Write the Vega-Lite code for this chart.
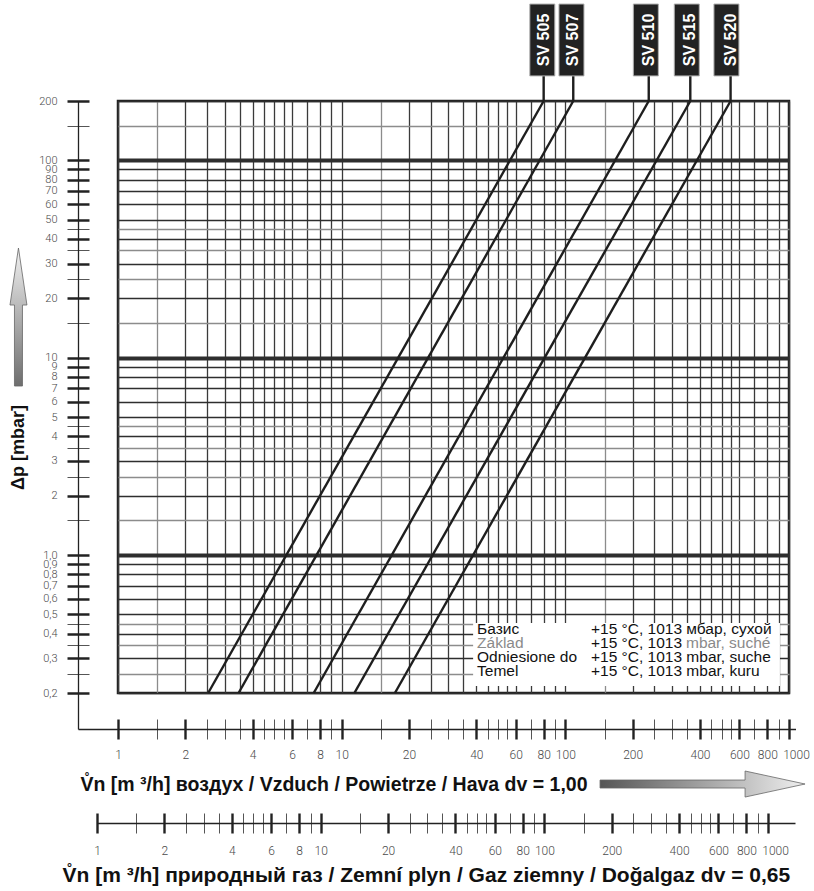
{
  "$schema": "https://vega.github.io/schema/vega-lite/v6.json",
  "width": 671,
  "height": 592,
  "autosize": {"type": "none"},
  "padding": {"left": 118, "top": 101, "right": 25, "bottom": 198},
  "background": "white",
  "config": {
    "view": {"stroke": "#222", "strokeWidth": 2.5},
    "axis": {"labelFont": "Roboto", "titleFont": "Liberation Sans"}
  },
  "datasets": {
    "lines": [
      {"valve": "SV 505", "dp": 0.2, "q": 2.53},
      {"valve": "SV 505", "dp": 200, "q": 80},
      {"valve": "SV 507", "dp": 0.2, "q": 3.46},
      {"valve": "SV 507", "dp": 200, "q": 108.5},
      {"valve": "SV 510", "dp": 0.2, "q": 7.5},
      {"valve": "SV 510", "dp": 200, "q": 236},
      {"valve": "SV 515", "dp": 0.2, "q": 11.4},
      {"valve": "SV 515", "dp": 200, "q": 362},
      {"valve": "SV 520", "dp": 0.2, "q": 17.3},
      {"valve": "SV 520", "dp": 200, "q": 548}
    ],
    "legend": [
      {"term": "Базис", "basis": "+15 °C, 1013 мбар, сухой", "dp": 0.422},
      {"term": "", "basis": "+15 °C, 1013", "dp": 0.3583},
      {"term": "Odniesione do", "basis": "+15 °C, 1013 mbar, suche", "dp": 0.3044},
      {"term": "Temel", "basis": "+15 °C, 1013 mbar, kuru", "dp": 0.2584}
    ],
    "legendcs": [
      {"term": "Základ", "basis": "mbar, suché", "dp": 0.3583}
    ]
  },
  "data": {"name": "lines"},
  "resolve": {
    "scale": {"x": "independent", "y": "independent"},
    "axis": {"x": "independent", "y": "independent"}
  },
  "layer": [
    {
      "mark": {"type": "line", "stroke": "#1e1e1e", "strokeWidth": 2.4},
      "encoding": {
        "x": {
          "field": "q", "type": "quantitative",
          "scale": {"type": "log", "domain": [1, 1000], "nice": false},
          "axis": {
            "orient": "bottom",
            "values": [1,1.5,2,2.5,3,3.5,4,4.5,5,5.5,6,7,8,9,10,15,20,25,30,35,40,45,50,55,60,70,80,90,100,150,200,250,300,350,400,450,500,550,600,700,800,900,1000],
            "grid": true, "domain": false, "ticks": false, "labels": false, "title": null,
            "gridColor": {"condition": {"test": "indexof([1.5,15,150], datum.value) >= 0", "value": "#8c8c8c"}, "value": "#3a3a3a"},
            "gridWidth": 1.3,
            "gridOpacity": 1
          }
        },
        "y": {
          "field": "dp", "type": "quantitative",
          "scale": {"type": "log", "domain": [0.2, 200], "nice": false},
          "axis": {
            "orient": "left", "offset": 29, "tickSize": 22, "domain": false, "grid": true,
            "values": [0.2,0.25,0.3,0.35,0.4,0.45,0.5,0.6,0.7,0.8,0.9,1,1.5,2,2.5,3,3.5,4,4.5,5,6,7,8,9,10,15,20,25,30,35,40,45,50,60,70,80,90,100,150,200],
            "labelExpr": "indexof([0.25,0.35,0.45,1.5,2.5,3.5,4.5,15,25,35,45,150], datum.value) >= 0 ? '' : (datum.value == 1 ? '1,0' : replace('' + datum.value, '.', ','))",
            "labelPadding": 10, "labelFontSize": 11, "labelColor": "#4a4a4a", "labelFontWeight": 300,
            "labelOverlap": false, "labelBound": false, "labelFlush": false,
            "title": "Δp [mbar]", "titleFontSize": 18, "titleFontWeight": "bold", "titleColor": "#111",
            "titleAngle": 270, "titleX": -70.5, "titleY": 346, "titleAlign": "center", "titleBaseline": "middle",
            "gridColor": {"condition": {"test": "indexof([0.25,0.35,0.45,1.5,2.5,3.5,4.5,15,25,35,45,150], datum.value) >= 0", "value": "#8c8c8c"}, "value": "#2e2e2e"},
            "gridWidth": {"condition": {"test": "indexof([1,10,100], datum.value) >= 0", "value": 4}, "value": 1.3},
            "gridOpacity": 1,
            "tickColor": {"condition": {"test": "indexof([0.25,0.35,0.45,1.5,2.5,3.5,4.5,15,25,35,45,150], datum.value) >= 0", "value": "#555"}, "value": "#222"},
            "tickWidth": {"condition": {"test": "indexof([0.25,0.35,0.45,1.5,2.5,3.5,4.5,15,25,35,45,150], datum.value) >= 0", "value": 1}, "value": 2.5}
          }
        },
        "detail": {"field": "valve"}
      }
    },
    {
      "mark": {"type": "point", "opacity": 0},
      "encoding": {
        "x": {
          "field": "q", "type": "quantitative",
          "scale": {"type": "log", "domain": [1, 1000], "nice": false},
          "axis": {
            "orient": "bottom", "offset": 26, "tickSize": 20, "domain": false, "grid": false,
            "values": [1,1.5,2,2.5,3,3.5,4,4.5,5,5.5,6,7,8,9,10,15,20,25,30,35,40,45,50,55,60,70,80,90,100,150,200,250,300,350,400,450,500,550,600,700,800,900,1000],
            "labelExpr": "indexof([1,2,4,6,8,10,20,40,60,80,100,200,400,600,800,1000], datum.value) >= 0 ? '' + datum.value : ''",
            "labelPadding": 10, "labelFontSize": 12, "labelColor": "#4a4a4a", "labelFontWeight": 300,
            "labelOverlap": false, "labelBound": false, "labelFlush": false,
            "labelOffset": {"condition": {"test": "datum.value == 1000", "value": 7}, "value": 0},
            "title": "V̊n [m ³/h] воздух / Vzduch / Powietrze / Hava dv = 1,00",
            "titleFontSize": 19.5, "titleFontWeight": "bold", "titleColor": "#111",
            "titleX": -38, "titleY": 65, "titleAlign": "left", "titleBaseline": "middle",
            "tickColor": {"condition": {"test": "indexof([1,2,4,6,8,10,20,40,60,80,100,200,400,600,800,1000], datum.value) >= 0", "value": "#222"}, "value": "#555"},
            "tickWidth": {"condition": {"test": "indexof([1,2,4,6,8,10,20,40,60,80,100,200,400,600,800,1000], datum.value) >= 0", "value": 2.4}, "value": 1}
          }
        },
        "y": {"field": "dp", "type": "quantitative", "scale": {"type": "log", "domain": [0.2, 200], "nice": false}, "axis": null}
      }
    },
    {
      "mark": {"type": "point", "opacity": 0},
      "encoding": {
        "x": {
          "field": "q", "type": "quantitative",
          "scale": {"type": "log", "domain": [0.6626, 1069], "range": [-40, 677.5], "nice": false},
          "axis": {"orient": "bottom", "offset": 36, "domain": true, "domainColor": "#222", "domainWidth": 1.3, "ticks": false, "labels": false, "grid": false, "title": null}
        },
        "y": {
          "field": "dp", "type": "quantitative",
          "scale": {"type": "log", "domain": [0.13138, 200], "range": [628, 0], "nice": false},
          "axis": {"orient": "left", "offset": 40, "domain": true, "domainColor": "#222", "domainWidth": 1.3, "ticks": false, "labels": false, "grid": false, "title": null}
        }
      }
    },
    {
      "mark": {"type": "point", "opacity": 0},
      "encoding": {
        "x": {
          "field": "q", "type": "quantitative",
          "scale": {"type": "log", "domain": [1, 1000], "range": [-20.92, 650.08], "nice": false},
          "axis": {
            "orient": "bottom", "offset": 120, "tickSize": 20, "domain": false, "grid": false,
            "values": [1,1.5,2,2.5,3,3.5,4,4.5,5,5.5,6,7,8,9,10,15,20,25,30,35,40,45,50,55,60,70,80,90,100,150,200,250,300,350,400,450,500,550,600,700,800,900,1000],
            "labelExpr": "indexof([1,2,4,6,8,10,20,40,60,80,100,200,400,600,800,1000], datum.value) >= 0 ? '' + datum.value : ''",
            "labelPadding": 12, "labelFontSize": 12, "labelColor": "#4a4a4a", "labelFontWeight": 300,
            "labelOverlap": false, "labelBound": false, "labelFlush": false,
            "labelOffset": {"condition": {"test": "datum.value == 1000", "value": 7}, "value": 0},
            "title": "V̊n [m ³/h] природный газ / Zemní plyn / Gaz ziemny / Doğalgaz dv = 0,65",
            "titleFontSize": 21, "titleFontWeight": "bold", "titleColor": "#111",
            "titleX": -56, "titleY": 62, "titleAlign": "left", "titleBaseline": "middle",
            "tickColor": {"condition": {"test": "indexof([1,2,4,6,8,10,20,40,60,80,100,200,400,600,800,1000], datum.value) >= 0", "value": "#222"}, "value": "#555"},
            "tickWidth": {"condition": {"test": "indexof([1,2,4,6,8,10,20,40,60,80,100,200,400,600,800,1000], datum.value) >= 0", "value": 2.4}, "value": 1}
          }
        },
        "y": {"field": "dp", "type": "quantitative", "scale": {"type": "log", "domain": [0.2, 200], "nice": false}, "axis": null}
      }
    },
    {
      "mark": {"type": "point", "opacity": 0},
      "encoding": {
        "x": {
          "field": "q", "type": "quantitative",
          "scale": {"type": "log", "domain": [1, 1319.5], "range": [-20.92, 677], "nice": false},
          "axis": {"orient": "bottom", "offset": 130, "domain": true, "domainColor": "#222", "domainWidth": 1.3, "ticks": false, "labels": false, "grid": false, "title": null}
        },
        "y": {"field": "dp", "type": "quantitative", "scale": {"type": "log", "domain": [0.2, 200], "nice": false}, "axis": null}
      }
    },
    {
      "transform": [{"filter": "datum.dp == 200"}],
      "mark": {"type": "rule", "stroke": "#1e1e1e", "strokeWidth": 2.4},
      "encoding": {
        "x": {"field": "q", "type": "quantitative", "scale": {"type": "log", "domain": [1, 1000], "nice": false}, "axis": null},
        "y": {"datum": 200, "type": "quantitative", "scale": {"type": "log", "domain": [0.2, 200], "nice": false}, "axis": null},
        "y2": {"datum": 268}
      }
    },
    {
      "transform": [{"filter": "datum.dp == 200"}],
      "mark": {"type": "bar", "width": 25, "fill": "#222", "stroke": "#b0b0b0", "strokeWidth": 1},
      "encoding": {
        "x": {"field": "q", "type": "quantitative", "scale": {"type": "log", "domain": [1, 1000], "nice": false}, "axis": null},
        "y": {"datum": 268, "type": "quantitative", "scale": {"type": "log", "domain": [0.2, 200], "nice": false}, "axis": null},
        "y2": {"datum": 620}
      }
    },
    {
      "transform": [{"filter": "datum.dp == 200"}],
      "mark": {"type": "text", "angle": 270, "color": "white", "font": "Liberation Sans", "fontSize": 16, "fontWeight": "bold", "align": "center", "baseline": "middle"},
      "encoding": {
        "x": {"field": "q", "type": "quantitative", "scale": {"type": "log", "domain": [1, 1000], "nice": false}, "axis": null},
        "y": {"datum": 407.7, "type": "quantitative", "scale": {"type": "log", "domain": [0.2, 200], "nice": false}, "axis": null},
        "text": {"field": "valve"}
      }
    },
    {
      "data": {"name": "legend"},
      "transform": [{"aggregate": [{"op": "count", "as": "n"}]}],
      "mark": {"type": "rect", "fill": "white"},
      "encoding": {
        "x": {"datum": 38.7, "type": "quantitative", "scale": {"type": "log", "domain": [1, 1000], "nice": false}, "axis": null},
        "x2": {"datum": 911},
        "y": {"datum": 0.4524, "type": "quantitative", "scale": {"type": "log", "domain": [0.2, 200], "nice": false}, "axis": null},
        "y2": {"datum": 0.2168}
      }
    },
    {
      "data": {"name": "legend"},
      "mark": {"type": "text", "align": "left", "baseline": "middle", "font": "Liberation Sans", "fontSize": 15.5, "color": "#111"},
      "encoding": {
        "x": {"datum": 40.3, "type": "quantitative", "scale": {"type": "log", "domain": [1, 1000], "nice": false}, "axis": null},
        "y": {"field": "dp", "type": "quantitative", "scale": {"type": "log", "domain": [0.2, 200], "nice": false}, "axis": null},
        "text": {"field": "term"}
      }
    },
    {
      "data": {"name": "legend"},
      "mark": {"type": "text", "align": "left", "baseline": "middle", "font": "Liberation Sans", "fontSize": 15.5, "color": "#111"},
      "encoding": {
        "x": {"datum": 130.2, "type": "quantitative", "scale": {"type": "log", "domain": [1, 1000], "nice": false}, "axis": null},
        "y": {"field": "dp", "type": "quantitative", "scale": {"type": "log", "domain": [0.2, 200], "nice": false}, "axis": null},
        "text": {"field": "basis"}
      }
    },
    {
      "data": {"name": "legendcs"},
      "mark": {"type": "text", "align": "left", "baseline": "middle", "font": "Liberation Sans", "fontSize": 15.5, "color": "#8a8a8a"},
      "encoding": {
        "x": {"datum": 40.3, "type": "quantitative", "scale": {"type": "log", "domain": [1, 1000], "nice": false}, "axis": null},
        "y": {"field": "dp", "type": "quantitative", "scale": {"type": "log", "domain": [0.2, 200], "nice": false}, "axis": null},
        "text": {"field": "term"}
      }
    },
    {
      "data": {"name": "legendcs"},
      "mark": {"type": "text", "align": "left", "baseline": "middle", "font": "Liberation Sans", "fontSize": 15.5, "color": "#8a8a8a", "dx": 95},
      "encoding": {
        "x": {"datum": 130.2, "type": "quantitative", "scale": {"type": "log", "domain": [1, 1000], "nice": false}, "axis": null},
        "y": {"field": "dp", "type": "quantitative", "scale": {"type": "log", "domain": [0.2, 200], "nice": false}, "axis": null},
        "text": {"field": "basis"}
      }
    },
    {
      "transform": [{"aggregate": [{"op": "count", "as": "n"}]}],
      "mark": {
        "type": "point", "filled": true, "opacity": 1, "size": 19044,
        "shape": "M0,-1 L0.123,-0.174 L0.058,-0.174 L0.058,1 L-0.058,1 L-0.058,-0.174 L-0.123,-0.174 Z",
        "fill": {"gradient": "linear", "x1": 0, "y1": 0, "x2": 0, "y2": 1, "stops": [{"offset": 0, "color": "#f2f2f2"}, {"offset": 1, "color": "#6e6e6e"}]},
        "stroke": "#666", "strokeWidth": 0.8
      },
      "encoding": {
        "x": {"datum": 0.3589, "type": "quantitative", "scale": {"type": "log", "domain": [1, 1000], "nice": false}, "axis": null},
        "y": {"datum": 16.08, "type": "quantitative", "scale": {"type": "log", "domain": [0.2, 200], "nice": false}, "axis": null}
      }
    },
    {
      "transform": [{"aggregate": [{"op": "count", "as": "n"}]}],
      "mark": {
        "type": "point", "filled": true, "opacity": 1, "size": 42025,
        "shape": "M1,0 L0.415,-0.127 L0.415,-0.039 L-1,-0.039 L-1,0.039 L0.415,0.039 L0.415,0.127 Z",
        "fill": {"gradient": "linear", "x1": 0, "y1": 0, "x2": 1, "y2": 0, "stops": [{"offset": 0, "color": "#555555"}, {"offset": 1, "color": "#efefef"}]},
        "stroke": "#666", "strokeWidth": 0.8
      },
      "encoding": {
        "x": {"datum": 410.6, "type": "quantitative", "scale": {"type": "log", "domain": [1, 1000], "nice": false}, "axis": null},
        "y": {"datum": 0.06914, "type": "quantitative", "scale": {"type": "log", "domain": [0.2, 200], "nice": false}, "axis": null}
      }
    }
  ]
}
